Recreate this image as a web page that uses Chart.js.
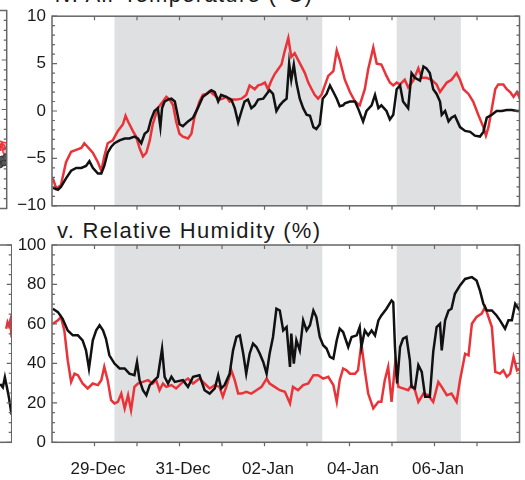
<!DOCTYPE html>
<html>
<head>
<meta charset="utf-8">
<script src="https://cdn.jsdelivr.net/npm/chart.js@4.4.1/dist/chart.umd.min.js"></script>
<style>
  body { margin: 0; width: 525px; height: 480px; overflow: hidden; position: relative; background: #fff; }
  canvas { position: absolute; }
  .ttl { position: absolute; font: 22px "Liberation Sans", Arial, sans-serif; letter-spacing: 1.3px; line-height: 1; color: #1a1a1a; white-space: nowrap; }
</style>
</head>
<body>
<div class="ttl" style="left:55px; top:-16.5px">iv. Air Temperature (°C)</div>
<div class="ttl" style="left:57px; top:220px">v. Relative Humidity (%)</div>
<canvas id="tempEdge" width="112" height="222" style="left:-100px; top:0"></canvas>
<canvas id="rhEdge" width="112" height="255" style="left:-100px; top:225px"></canvas>
<canvas id="temp" width="525" height="222" style="left:0; top:0"></canvas>
<canvas id="rh" width="525" height="255" style="left:0; top:225px"></canvas>
<script>
// x = days since 28-Dec 00:00
const dayTicks = ['', '29-Dec', '', '31-Dec', '', '02-Jan', '', '04-Jan', '', '06-Jan', '', ''];
const shadeSpans = [[1.47, 6.36], [8.11, 9.62]];

const tempBlack = [
  [0.02,-8.1],[0.14,-8.3],[0.21,-8.0],[0.33,-7.1],[0.45,-6.3],[0.57,-6.0],[0.69,-6.0],[0.80,-5.8],[0.88,-5.3],[0.96,-6.0],
  [1.08,-6.6],[1.16,-6.6],[1.23,-5.8],[1.31,-4.4],[1.39,-3.8],[1.47,-3.4],[1.59,-3.1],[1.71,-2.9],[1.82,-2.9],[1.94,-2.7],
  [2.02,-2.9],[2.10,-3.4],[2.18,-2.4],[2.26,-2.1],[2.33,-0.9],[2.41,0.0],[2.49,0.3],[2.55,-1.7],[2.59,0.3],[2.65,1.0],
  [2.73,1.2],[2.81,1.3],[2.89,1.0],[3.00,-1.4],[3.08,-1.6],[3.20,-1.1],[3.32,-0.7],[3.43,0.3],[3.55,1.5],[3.67,1.9],
  [3.75,2.2],[3.83,2.0],[3.91,1.0],[3.98,1.7],[4.10,1.5],[4.22,1.2],[4.30,0.3],[4.38,-1.2],[4.46,0.0],[4.53,1.0],
  [4.61,1.2],[4.69,0.3],[4.77,0.6],[4.85,1.2],[4.97,1.3],[5.05,1.8],[5.12,2.2],[5.20,1.8],[5.28,0.0],[5.36,0.6],
  [5.44,1.0],[5.52,1.3],[5.58,5.0],[5.63,3.3],[5.69,4.9],[5.75,3.0],[5.83,1.3],[5.91,0.3],[5.99,-0.4],[6.07,-0.5],
  [6.15,-1.7],[6.22,-1.9],[6.30,-1.4],[6.37,1.3],[6.46,1.8],[6.54,2.7],[6.62,2.0],[6.70,1.3],[6.77,0.5],[6.85,0.6],
  [6.89,0.8],[7.01,1.0],[7.13,1.0],[7.20,0.3],[7.32,-1.1],[7.40,0.0],[7.52,0.6],[7.60,1.7],[7.68,0.3],[7.75,0.6],
  [7.87,0.0],[7.95,-0.9],[8.03,-0.4],[8.11,2.3],[8.19,2.7],[8.26,1.0],[8.38,0.3],[8.46,4.0],[8.54,3.5],[8.66,3.2],
  [8.74,4.7],[8.81,4.5],[8.89,4.0],[8.97,2.3],[9.05,1.8],[9.13,1.0],[9.17,-0.4],[9.25,0.0],[9.33,-1.1],[9.40,-0.7],
  [9.48,-0.5],[9.60,-1.7],[9.72,-2.1],[9.84,-2.2],[9.95,-2.6],[10.07,-2.7],[10.15,-2.2],[10.23,-0.7],[10.35,-0.4],[10.46,0.0],
  [10.58,0.0],[10.70,0.1],[10.82,0.1],[10.94,0.0],[11.01,0.0]
];
const tempRed = [
  [0.02,-7.1],[0.10,-8.2],[0.21,-7.8],[0.33,-5.4],[0.45,-4.3],[0.57,-4.1],[0.69,-3.9],[0.76,-3.4],[0.84,-3.8],[0.96,-4.4],
  [1.08,-5.4],[1.16,-6.3],[1.23,-4.8],[1.31,-3.4],[1.43,-3.1],[1.55,-2.1],[1.67,-1.4],[1.73,-0.5],[1.79,-1.1],[1.90,-2.1],
  [1.98,-2.7],[2.06,-3.9],[2.14,-4.8],[2.22,-4.4],[2.30,-3.1],[2.37,-1.4],[2.49,0.3],[2.61,1.0],[2.69,1.5],[2.77,1.2],
  [2.85,0.6],[2.92,-1.1],[3.00,-2.4],[3.08,-2.7],[3.20,-2.9],[3.28,-2.4],[3.35,-0.7],[3.47,1.0],[3.55,1.7],[3.63,1.8],
  [3.71,2.1],[3.79,1.8],[3.87,1.5],[3.94,1.2],[4.02,1.3],[4.10,1.5],[4.18,1.0],[4.26,1.2],[4.34,1.2],[4.46,1.3],
  [4.57,1.7],[4.65,2.7],[4.77,2.3],[4.85,2.7],[4.93,2.8],[5.01,3.0],[5.08,2.3],[5.16,3.2],[5.24,3.9],[5.32,4.4],
  [5.40,4.9],[5.48,6.4],[5.56,7.7],[5.63,5.7],[5.71,6.1],[5.79,5.4],[5.87,4.7],[5.95,4.0],[6.03,3.0],[6.11,2.3],
  [6.18,1.7],[6.26,1.3],[6.34,1.7],[6.42,2.7],[6.50,3.7],[6.62,4.2],[6.70,6.4],[6.77,5.4],[6.89,3.3],[7.01,2.0],
  [7.13,1.0],[7.24,0.6],[7.36,2.3],[7.44,4.4],[7.56,6.7],[7.64,5.0],[7.75,4.9],[7.87,3.7],[7.95,3.0],[8.03,2.7],
  [8.11,3.0],[8.19,2.8],[8.30,3.3],[8.38,2.5],[8.50,3.2],[8.62,4.5],[8.70,3.5],[8.81,3.5],[8.93,3.3],[9.05,2.8],
  [9.13,2.0],[9.21,2.5],[9.29,3.0],[9.40,3.3],[9.52,4.0],[9.60,3.3],[9.68,2.3],[9.80,1.8],[9.91,1.0],[10.03,-0.4],
  [10.15,-1.7],[10.21,-2.6],[10.27,-1.7],[10.35,0.3],[10.43,2.3],[10.50,2.8],[10.62,2.8],[10.70,2.3],[10.78,2.0],[10.86,1.5],
  [10.94,2.0],[11.01,1.3]
];
const rhBlack = [
  [0.02,67.7],[0.14,66.0],[0.25,62.6],[0.37,56.7],[0.49,54.2],[0.61,54.2],[0.72,51.7],[0.80,46.6],[0.87,37.4],[0.96,51.7],
  [1.04,56.7],[1.12,59.3],[1.20,56.7],[1.27,52.5],[1.35,44.1],[1.47,39.9],[1.59,37.4],[1.71,37.4],[1.82,34.8],[1.94,34.0],
  [2.00,40.7],[2.06,31.5],[2.14,26.4],[2.22,23.9],[2.30,29.0],[2.41,31.5],[2.49,33.2],[2.59,47.5],[2.65,33.2],[2.73,29.8],
  [2.81,33.2],[2.89,30.6],[3.08,31.5],[3.20,28.1],[3.32,33.2],[3.47,34.0],[3.59,26.4],[3.71,24.7],[3.83,27.3],[3.91,34.0],
  [3.98,27.3],[4.06,29.0],[4.18,34.8],[4.26,46.6],[4.34,53.4],[4.42,54.2],[4.50,44.9],[4.57,34.8],[4.65,44.9],[4.73,50.0],
  [4.81,48.3],[4.89,44.9],[4.97,40.7],[5.05,34.8],[5.12,44.9],[5.20,53.4],[5.28,67.7],[5.36,66.8],[5.44,56.7],[5.52,58.4],
  [5.60,38.2],[5.63,55.1],[5.69,39.9],[5.75,51.7],[5.83,46.6],[5.91,61.8],[5.99,56.7],[6.07,59.3],[6.15,66.8],[6.22,63.5],
  [6.30,53.4],[6.38,49.2],[6.46,47.5],[6.54,43.3],[6.62,42.4],[6.70,51.7],[6.77,57.6],[6.85,55.9],[6.97,48.3],[7.05,53.4],
  [7.17,54.2],[7.24,58.4],[7.28,48.3],[7.36,56.7],[7.44,54.2],[7.52,56.7],[7.60,54.2],[7.68,61.8],[7.75,64.3],[7.87,67.7],
  [7.99,71.9],[8.03,71.0],[8.07,48.3],[8.12,29.8],[8.19,48.3],[8.26,52.5],[8.34,53.4],[8.42,41.6],[8.46,28.1],[8.54,27.3],
  [8.62,39.1],[8.70,35.7],[8.78,23.1],[8.89,23.1],[8.97,45.8],[9.05,58.4],[9.13,60.1],[9.17,46.6],[9.25,61.8],[9.33,66.8],
  [9.40,67.7],[9.48,75.3],[9.60,79.5],[9.72,82.8],[9.88,83.7],[9.99,82.0],[10.07,76.9],[10.15,70.2],[10.23,66.8],[10.35,66.8],
  [10.46,64.3],[10.54,61.8],[10.66,57.6],[10.74,61.8],[10.82,61.8],[10.90,70.2],[10.98,67.7],[11.01,66.8]
];
const rhRed = [
  [0.02,60.1],[0.14,61.8],[0.21,63.5],[0.29,56.7],[0.37,41.6],[0.45,30.6],[0.53,34.8],[0.61,34.0],[0.72,29.8],[0.84,27.3],
  [0.96,29.8],[1.08,29.0],[1.16,31.5],[1.23,38.2],[1.31,31.5],[1.39,21.4],[1.47,19.7],[1.55,20.5],[1.63,24.7],[1.71,17.2],
  [1.79,23.9],[1.86,16.3],[1.94,28.1],[2.02,29.8],[2.14,30.6],[2.26,31.5],[2.37,29.8],[2.45,31.5],[2.53,26.4],[2.61,29.8],
  [2.69,28.1],[2.81,29.0],[2.92,27.3],[3.08,30.6],[3.20,32.3],[3.32,29.8],[3.47,32.3],[3.59,29.8],[3.71,27.3],[3.83,29.0],
  [3.94,28.1],[4.02,23.1],[4.10,28.1],[4.22,36.5],[4.30,31.5],[4.38,24.7],[4.46,24.7],[4.57,25.6],[4.69,24.7],[4.81,26.4],
  [4.93,28.1],[5.05,32.3],[5.12,29.8],[5.24,28.1],[5.36,26.4],[5.48,25.6],[5.60,19.7],[5.67,28.1],[5.79,26.4],[5.91,29.0],
  [6.03,29.8],[6.15,34.0],[6.26,34.0],[6.38,32.3],[6.50,33.2],[6.62,29.0],[6.70,20.5],[6.77,31.5],[6.85,37.4],[6.93,36.5],
  [7.01,34.8],[7.13,34.8],[7.20,36.5],[7.28,50.0],[7.36,36.5],[7.44,24.7],[7.56,17.2],[7.68,20.5],[7.75,20.5],[7.83,31.5],
  [7.91,38.2],[7.99,20.5],[8.07,39.1],[8.15,28.1],[8.26,27.3],[8.38,26.4],[8.46,29.0],[8.54,26.4],[8.62,20.5],[8.74,24.7],
  [8.85,23.9],[8.97,20.5],[9.09,30.6],[9.17,28.1],[9.29,23.9],[9.40,24.7],[9.52,20.5],[9.60,31.5],[9.72,44.9],[9.80,44.1],
  [9.88,60.1],[9.99,63.5],[10.11,65.2],[10.19,68.5],[10.27,63.5],[10.35,58.4],[10.43,35.7],[10.54,34.8],[10.62,36.5],[10.70,33.2],
  [10.78,34.8],[10.86,43.3],[10.94,36.5],[11.01,37.4]
];

// right edge of the neighbouring panels (x = fraction of their time axis)
const edgeTempRed = [[0.89,-3.6],[0.91,-3.9],[0.93,-3.5],[0.95,-3.8],[0.97,-3.6],[0.99,-4.2]];
const edgeTempBlack = [[0.89,-5.8],[0.91,-5.2],[0.93,-5.6],[0.95,-5.0],[0.97,-5.4],[0.99,-4.8]];
const edgeRhRed = [[0.946,57.6],[0.959,60.8],[0.972,59.1],[0.985,61.6],[1.0,53.2]];
const edgeRhBlack = [[0.887,29.6],[0.913,27.9],[0.933,33.0],[0.953,27.9],[0.972,22.9],[0.992,16.2],[1.0,14.0]];

const RED = '#ea3339';
const BLACK = '#111111';
const AXIS = '#666666';
const FONT = { family: '"Liberation Sans", Arial, sans-serif', size: 17 };

const xy = pairs => pairs.map(([x, y]) => ({ x, y }));

const framePlugin = {
  id: 'frame',
  beforeDatasetsDraw(chart, args, opts) {
    const { ctx, chartArea: a, scales: { x } } = chart;
    ctx.save();
    ctx.fillStyle = '#dfe0e2';
    (opts.shade || []).forEach(([s, e]) => {
      const x0 = x.getPixelForValue(s), x1 = x.getPixelForValue(e);
      ctx.fillRect(x0, a.top, x1 - x0, a.bottom - a.top);
    });
    ctx.restore();
  },
  afterDatasetsDraw(chart, args, opts) {
    const { ctx, chartArea: a, scales: { x, y } } = chart;
    ctx.save();
    ctx.strokeStyle = AXIS;
    ctx.lineWidth = 1.5;
    ctx.strokeRect(a.left, a.top, a.right - a.left, a.bottom - a.top);
    ctx.lineWidth = 1.2;
    ctx.beginPath();
    for (let v = y.min; v <= y.max + 1e-9; v += opts.minor) {
      const py = y.getPixelForValue(v);
      const r = v / opts.major;
      const len = Math.abs(r - Math.round(r)) < 1e-6 ? 5 : 3;
      if (opts.left) { ctx.moveTo(a.left, py); ctx.lineTo(a.left + len, py); }
      ctx.moveTo(a.right, py); ctx.lineTo(a.right - len, py);
    }
    if (opts.days) {
      for (let d = 1; d < x.max; d++) {
        const px = x.getPixelForValue(d);
        ctx.moveTo(px, a.top); ctx.lineTo(px, a.top + 4);
        ctx.moveTo(px, a.bottom); ctx.lineTo(px, a.bottom + 4);
      }
    }
    ctx.stroke();
    ctx.restore();
  }
};

function mainPanel(id, black, red, yMin, yMax, yStep, yMinor, padding, showX) {
  return new Chart(document.getElementById(id), {
    type: 'line',
    data: {
      datasets: [
        { data: xy(black), borderColor: BLACK, borderWidth: 2.5, pointRadius: 0, tension: 0 },
        { data: xy(red), borderColor: RED, borderWidth: 2.5, pointRadius: 0, tension: 0 }
      ]
    },
    options: {
      responsive: false,
      animation: false,
      layout: { padding },
      plugins: {
        legend: { display: false },
        tooltip: { enabled: false },
        frame: { shade: shadeSpans, major: yStep, minor: yMinor, left: true, days: true }
      },
      scales: {
        x: {
          type: 'linear', min: 0, max: 11, display: showX,
          grid: { display: false, drawTicks: false }, border: { display: false },
          ticks: {
            stepSize: 1, autoSkip: false, maxRotation: 0, font: FONT, color: '#1a1a1a',
            padding: 16.5, labelOffset: 3.5,
            callback: v => dayTicks[v] || ''
          },
          afterFit: s => {
            s.height = showX ? 37.7 : 0;
            s.paddingLeft = 0;
            s.paddingRight = 0;
          }
        },
        y: {
          min: yMin, max: yMax,
          grid: { display: false, drawTicks: false }, border: { display: false },
          ticks: {
            stepSize: yStep, font: FONT, color: '#1a1a1a', padding: 6,
            callback: v => String(v).replace('-', '\u2212')
          },
          afterFit: s => { s.width = 52; }
        }
      }
    },
    plugins: [framePlugin]
  });
}

function edgePanel(id, datasets, yMin, yMax, yStep, yMinor, padding) {
  return new Chart(document.getElementById(id), {
    type: 'line',
    data: { datasets },
    options: {
      responsive: false,
      animation: false,
      layout: { padding },
      plugins: {
        legend: { display: false },
        tooltip: { enabled: false },
        frame: { major: yStep, minor: yMinor, left: false, days: false }
      },
      scales: {
        x: { type: 'linear', min: 0, max: 1, display: false },
        y: { min: yMin, max: yMax, display: false }
      }
    },
    plugins: [framePlugin]
  });
}

mainPanel('temp', tempBlack, tempRed, -10, 10, 5, 1,
  { left: 0, right: 5.5, top: 10.5, bottom: 13.5 }, false);
mainPanel('rh', rhBlack, rhRed, 0, 100, 20, 5,
  { left: 0, right: 5.5, top: 20, bottom: 0 }, true);

edgePanel('tempEdge', [
  { data: xy(edgeTempBlack), showLine: false, pointRadius: 3, borderWidth: 1, borderColor: '#333', backgroundColor: '#555' },
  { data: xy(edgeTempRed), showLine: false, pointRadius: 3, borderWidth: 1.3, borderColor: RED, backgroundColor: 'rgba(234,51,57,0.35)' }
], -10, 10, 5, 1, { left: 10, right: 0.3, top: 10.5, bottom: 13.5 });
edgePanel('rhEdge', [
  { data: xy(edgeRhBlack), borderColor: BLACK, borderWidth: 2.5, pointRadius: 0 },
  { data: xy(edgeRhRed), borderColor: RED, borderWidth: 2.5, pointRadius: 0 }
], 0, 100, 20, 5, { left: 10, right: 0.3, top: 20, bottom: 37.7 });
</script>
</body>
</html>
